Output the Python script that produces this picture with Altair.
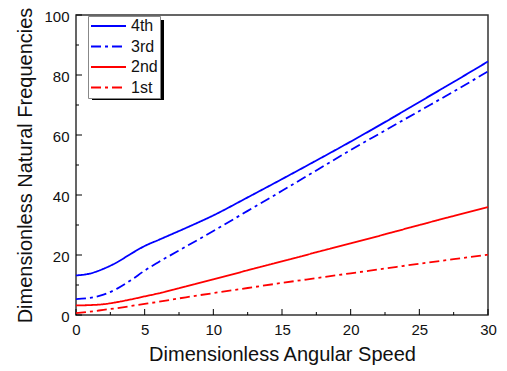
import altair as alt
import pandas as pd

speed = [0, 1, 2, 3, 4, 5, 6, 8, 10, 12.5, 15, 17.5, 20, 22.5, 25, 27.5, 30]
f4 = [13.2, 13.8, 15.4, 17.6, 20.4, 23.0, 25.0, 29.0, 33.2, 39.2, 45.3, 51.5, 57.8, 64.3, 71.0, 77.7, 84.5]
f3 = [5.3, 5.7, 6.8, 8.8, 11.6, 14.8, 17.6, 22.8, 28.0, 34.7, 41.4, 48.2, 55.0, 61.5, 68.0, 74.5, 81.2]
f2 = [3.2, 3.3, 3.6, 4.3, 5.2, 6.2, 7.2, 9.5, 11.9, 14.9, 17.9, 20.9, 23.9, 26.9, 30.0, 33.0, 36.0]
f1 = [0.6, 1.1, 1.7, 2.3, 3.0, 3.7, 4.4, 5.9, 7.3, 9.0, 10.7, 12.3, 13.9, 15.5, 17.1, 18.6, 20.1]
modes = ["4th", "3rd", "2nd", "1st"]
x_major = [0, 5, 10, 15, 20, 25, 30]
x_minor = [2.5, 7.5, 12.5, 17.5, 22.5, 27.5]
y_major = [0, 20, 40, 60, 80, 100]
y_minor = [10, 30, 50, 70, 90]

W, H = 412, 300

rows = []
for name, ser in zip(modes, [f4, f3, f2, f1]):
    for s, v in zip(speed, ser):
        rows.append({"speed": s, "freq": v, "mode": name})
df = pd.DataFrame(rows)

xs = alt.Scale(domain=[0, 30], nice=False, zero=False)
ys = alt.Scale(domain=[0, 100], nice=False)

dashdot = [10, 4, 3, 4]
lines = alt.Chart(df).mark_line(strokeWidth=1.8, interpolate="monotone").encode(
    x=alt.X("speed:Q", scale=xs, title="Dimensionless Angular Speed",
            axis=alt.Axis(values=x_major, ticks=False, domain=False, grid=False,
                          labelFlush=False, labelPadding=7, titlePadding=7)),
    y=alt.Y("freq:Q", scale=ys, title="Dimensionless Natural Frequencies",
            axis=alt.Axis(values=y_major, ticks=False, domain=False, grid=False,
                          labelFlush=False, labelPadding=7, titlePadding=8, labelOffset=1.5)),
    color=alt.Color("mode:N", sort=modes,
                    scale=alt.Scale(domain=modes, range=["#0000FF", "#0000FF", "#FF0000", "#FF0000"]),
                    legend=alt.Legend(title=None)),
    strokeDash=alt.StrokeDash("mode:N", sort=modes,
                              scale=alt.Scale(domain=modes, range=[[1, 0], dashdot, [1, 0], dashdot]),
                              legend=alt.Legend(title=None)),
)

def xticks(vals, length):
    return alt.Chart(pd.DataFrame({"t": vals})).mark_rule(color="black", strokeWidth=1).encode(
        x=alt.X("t:Q", scale=xs), y=alt.value(H), y2=alt.value(H - length))

def yticks(vals, length):
    return alt.Chart(pd.DataFrame({"t": vals})).mark_rule(color="black", strokeWidth=1).encode(
        y=alt.Y("t:Q", scale=ys), x=alt.value(0), x2=alt.value(length))

shadow = alt.Chart(pd.DataFrame({"a": [0]})).mark_rect(color="black").encode(
    x=alt.value(16), x2=alt.value(88), y=alt.value(5), y2=alt.value(85))

chart = alt.layer(
    shadow, xticks(x_major, 6), xticks(x_minor, 3), yticks(y_major, 6), yticks(y_minor, 3), lines
).properties(
    width=W, height=H,
    autosize=alt.AutoSizeParams(type="none"),
    padding={"left": 68, "top": 7, "right": 11, "bottom": 56},
).configure_view(
    stroke="#333333", strokeWidth=1.5
).configure_axis(
    labelFont="Liberation Sans", titleFont="Liberation Sans",
    labelFontSize=15, titleFontSize=20, titleFontWeight="normal",
    labelColor="#111111", titleColor="#111111",
).configure_legend(
    orient="none", legendX=12, legendY=1,
    fillColor="white", strokeColor="#888888", padding=2,
    symbolType="stroke", symbolSize=1225, symbolStrokeWidth=1.8, clipHeight=16,
    labelFont="Liberation Sans", labelFontSize=16, labelColor="#111111",
    labelOffset=4, rowPadding=4.5,
)

chart.save("out.html", embed_options={"renderer": "svg", "actions": False})
